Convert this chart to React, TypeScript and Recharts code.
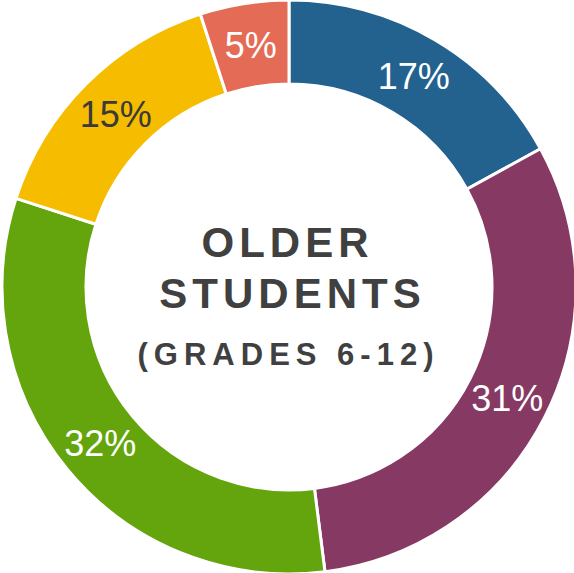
import { PieChart, Pie, Cell } from "recharts";

const groups = ["A", "B", "C", "D", "E"];
const shares = [17, 31, 32, 15, 5];
const colors = ["#23618F", "#863963", "#64A50D", "#F5BC00", "#E46B56"];
const labelColors = ["#ffffff", "#ffffff", "#ffffff", "#3a3a3a", "#ffffff"];
const titleLines = ["OLDER", "STUDENTS"];
const subtitle = "(GRADES 6-12)";

const data = groups.map((name, i) => ({ name, value: shares[i] }));

const RADIAN = Math.PI / 180;
const FONT = "'Liberation Sans', Arial, sans-serif";

function renderLabel({ cx, cy, midAngle, innerRadius, outerRadius, value, index }: any) {
  const r = (innerRadius + outerRadius) / 2;
  const x = cx + r * Math.cos(-midAngle * RADIAN);
  const y = cy + r * Math.sin(-midAngle * RADIAN);
  return (
    <text
      x={x}
      y={y + 13}
      fill={labelColors[index]}
      textAnchor="middle"
      fontSize={36}
      fontFamily={FONT}
    >
      {`${value}%`}
    </text>
  );
}

export default function App() {
  return (
    <div style={{ position: "absolute", left: 0, top: 0, width: 574, height: 573, background: "#fff", overflow: "hidden" }}>
      <PieChart width={578} height={574} margin={{ top: 0, right: 0, bottom: 0, left: 0 }}>
        <Pie
          data={data}
          dataKey="value"
          cx={289}
          cy={287}
          innerRadius={203}
          outerRadius={287}
          startAngle={90}
          endAngle={-270}
          stroke="#ffffff"
          strokeWidth={3}
          label={renderLabel}
          labelLine={false}
          isAnimationActive={false}
        >
          {data.map((d, i) => (
            <Cell key={d.name} fill={colors[i]} />
          ))}
        </Pie>
      </PieChart>
      {/* centre title */}
      <svg
        width={574}
        height={573}
        style={{ position: "absolute", left: 0, top: 0, pointerEvents: "none" }}
      >
        <g fill="#404040" fontFamily={FONT} fontWeight={700} textAnchor="middle">
          <text x={287.5} y={257} fontSize={42} letterSpacing={5}>
            {titleLines[0]}
          </text>
          <text x={292.5} y={308} fontSize={42} letterSpacing={5}>
            {titleLines[1]}
          </text>
          <text x={288.5} y={365} fontSize={31} letterSpacing={6}>
            {subtitle}
          </text>
        </g>
      </svg>
    </div>
  );
}
